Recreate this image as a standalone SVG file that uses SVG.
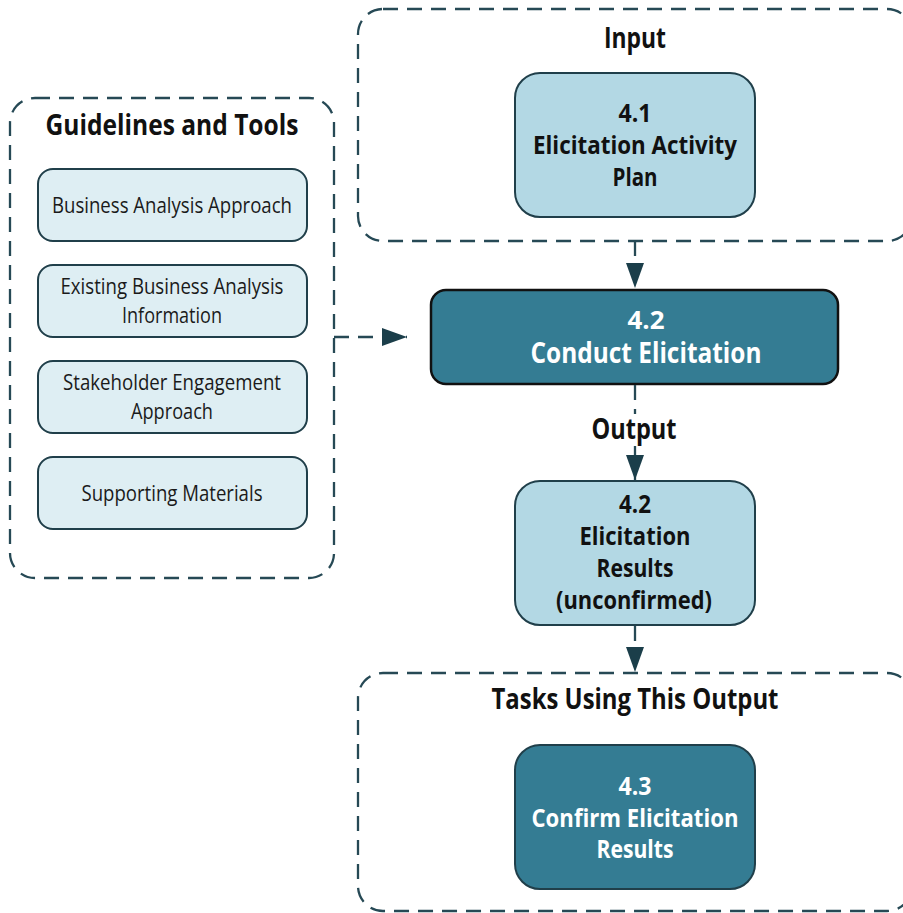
<svg xmlns="http://www.w3.org/2000/svg" width="903" height="913" viewBox="0 0 903 913">
<defs>
<style>
.cont{fill:none;stroke:#264955;stroke-width:2.3;stroke-dasharray:15 9}
.conn{fill:none;stroke:#264955;stroke-width:2.3;stroke-dasharray:15 9}
.light{fill:#B3D8E4;stroke:#203F4A;stroke-width:2}
.pale{fill:#DEEEF3;stroke:#203F4A;stroke-width:2}
.dark{fill:#347C93;stroke:#203F4A;stroke-width:2}
.main{fill:#347C93;stroke:#111111;stroke-width:2.5}
text{font-family:"Open Sans","Noto Sans","Liberation Sans",sans-serif;text-anchor:middle}
.h{font-size:28px;font-weight:bold;fill:#111}
.b{font-size:25px;font-weight:bold;fill:#111}
.w{font-size:25px;font-weight:bold;fill:#FFFFFF}
.r{font-size:22px;fill:#1a1a1a}
</style>
<marker id="ah" markerUnits="userSpaceOnUse" markerWidth="26" markerHeight="20" refX="25" refY="9" orient="auto">
<path d="M0,0 L25,9 L0,18 Z" fill="#1B3E4A"/>
</marker>
</defs>
<rect width="903" height="913" fill="#FFFFFF"/>

<g id="guidelines">
<rect class="cont" x="10" y="98" width="324" height="480" rx="25"/>
<text class="h" x="172" y="135" textLength="253" lengthAdjust="spacingAndGlyphs">Guidelines and Tools</text>
</g>
<g id="ba-approach">
<rect class="pale" x="38" y="169" width="269" height="72" rx="15"/>
<text class="r" x="172" y="213" textLength="240" lengthAdjust="spacingAndGlyphs">Business Analysis Approach</text>
</g>
<g id="existing-ba-info">
<rect class="pale" x="38" y="265" width="269" height="72" rx="15"/>
<text class="r" x="172" y="294" textLength="223" lengthAdjust="spacingAndGlyphs">Existing Business Analysis</text>
<text class="r" x="172" y="323" textLength="100" lengthAdjust="spacingAndGlyphs">Information</text>
</g>
<g id="stakeholder-approach">
<rect class="pale" x="38" y="361" width="269" height="72" rx="15"/>
<text class="r" x="172" y="390" textLength="218" lengthAdjust="spacingAndGlyphs">Stakeholder Engagement</text>
<text class="r" x="172" y="419" textLength="82" lengthAdjust="spacingAndGlyphs">Approach</text>
</g>
<g id="supporting-materials">
<rect class="pale" x="38" y="457" width="269" height="72" rx="15"/>
<text class="r" x="172" y="501" textLength="181" lengthAdjust="spacingAndGlyphs">Supporting Materials</text>
</g>

<g id="input">
<rect class="cont" x="358" y="9" width="554" height="232" rx="25"/>
<text class="h" x="635" y="48" textLength="62" lengthAdjust="spacingAndGlyphs">Input</text>
</g>
<g id="node-4-1">
<rect class="light" x="515" y="73" width="240" height="144" rx="25"/>
<text class="b" x="635" y="122" textLength="33" lengthAdjust="spacingAndGlyphs">4.1</text>
<text class="b" x="635" y="154" textLength="204" lengthAdjust="spacingAndGlyphs">Elicitation Activity</text>
<text class="b" x="635" y="186" textLength="45" lengthAdjust="spacingAndGlyphs">Plan</text>
</g>

<g id="node-4-2">
<rect class="main" x="431" y="290" width="407" height="94" rx="15"/>
<text class="w" x="646" y="329" textLength="37" lengthAdjust="spacingAndGlyphs">4.2</text>
<text class="w" x="646" y="363" style="font-size:28px" textLength="231" lengthAdjust="spacingAndGlyphs">Conduct Elicitation</text>
</g>

<g id="output-label">
<text class="h" x="634" y="439" textLength="85" lengthAdjust="spacingAndGlyphs">Output</text>
</g>

<g id="node-4-2-results">
<rect class="light" x="515" y="481" width="240" height="144" rx="25"/>
<text class="b" x="635" y="513" textLength="32" lengthAdjust="spacingAndGlyphs">4.2</text>
<text class="b" x="635" y="545" textLength="111" lengthAdjust="spacingAndGlyphs">Elicitation</text>
<text class="b" x="635" y="577" textLength="77" lengthAdjust="spacingAndGlyphs">Results</text>
<text class="b" x="634" y="609" textLength="156" lengthAdjust="spacingAndGlyphs">(unconfirmed)</text>
</g>

<g id="tasks">
<rect class="cont" x="358" y="673" width="554" height="238" rx="25"/>
<text class="h" x="635" y="709" textLength="287" lengthAdjust="spacingAndGlyphs">Tasks Using This Output</text>
</g>
<g id="node-4-3">
<rect class="dark" x="515" y="745" width="240" height="144" rx="25"/>
<text class="w" x="635" y="795" textLength="33" lengthAdjust="spacingAndGlyphs">4.3</text>
<text class="w" x="635" y="827" textLength="207" lengthAdjust="spacingAndGlyphs">Confirm Elicitation</text>
<text class="w" x="635" y="858" textLength="77" lengthAdjust="spacingAndGlyphs">Results</text>
</g>

<g id="connectors">
<line class="conn" x1="635" y1="241" x2="635" y2="288" marker-end="url(#ah)"/>
<line class="conn" x1="334" y1="337" x2="407" y2="337" marker-end="url(#ah)"/>
<line class="conn" x1="635" y1="385" x2="635" y2="414"/>
<line class="conn" x1="635" y1="446" x2="635" y2="480" marker-end="url(#ah)"/>
<line class="conn" x1="635" y1="626" x2="635" y2="672" marker-end="url(#ah)"/>
</g>
</svg>
